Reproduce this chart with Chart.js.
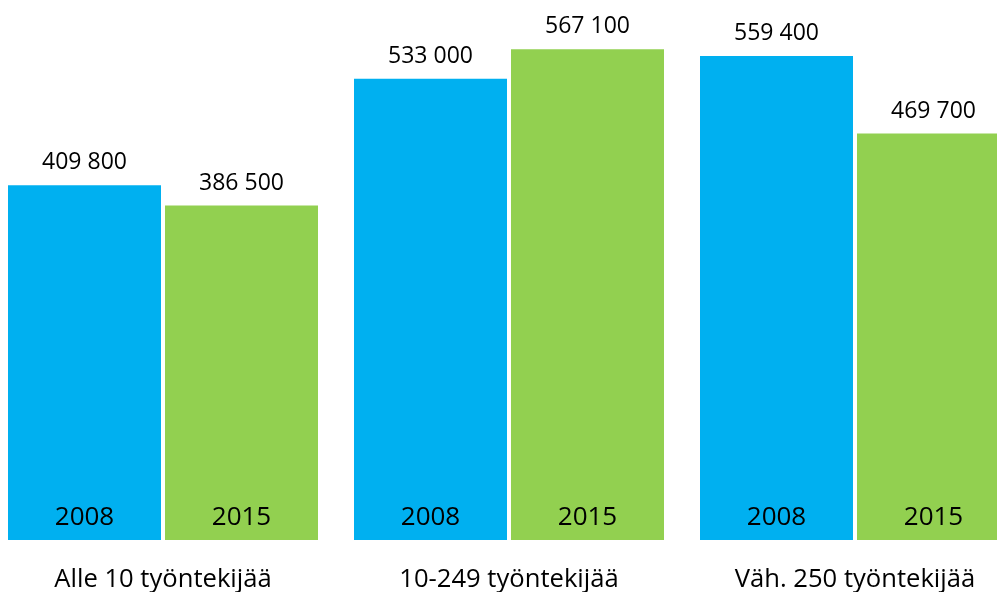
<!DOCTYPE html>
<html>
<head>
<meta charset="utf-8">
<script src="https://cdn.jsdelivr.net/npm/chart.js@4"></script>
<style>
  html, body { margin: 0; padding: 0; background: #fff; overflow: hidden; }
  #wrap { position: absolute; left: -10px; top: 0; width: 1038px; height: 592px; }
</style>
</head>
<body>
<div id="wrap"><canvas id="c"></canvas></div>
<script>
const categories = ["Alle 10 työntekijää", "10-249 työntekijää", "Väh. 250 työntekijää"];
const seriesNames = ["2008", "2015"];
const values2008 = [409800, 533000, 559400];
const values2015 = [386500, 567100, 469700];
const colors = ["#00B0F0", "#92D050"];

const fmt = v => String(v).replace(/\B(?=(\d{3})+(?!\d))/g, " ");

const labelPlugin = {
  id: "labels",
  afterDatasetsDraw(chart) {
    const ctx = chart.ctx;
    const y = chart.scales.y;
    const x = chart.scales.x;
    const base = y.getPixelForValue(0);
    ctx.save();
    ctx.fillStyle = "#000";
    ctx.textAlign = "center";
    ctx.textBaseline = "alphabetic";
    chart.data.datasets.forEach((ds, di) => {
      const meta = chart.getDatasetMeta(di);
      meta.data.forEach((bar, i) => {
        ctx.font = "23px 'Open Sans'";
        ctx.fillText(fmt(ds.data[i]), bar.x, bar.y - 16);
        ctx.font = "26px 'Open Sans'";
        ctx.fillText(ds.label, bar.x, base - 15);
      });
    });
    ctx.font = "25.6px 'Open Sans'";
    categories.forEach((c, i) => {
      ctx.fillText(c, x.getPixelForValue(i), 587);
    });
    ctx.restore();
  }
};

new Chart(document.getElementById("c"), {
  type: "bar",
  data: {
    labels: categories,
    datasets: [
      { label: seriesNames[0], data: values2008, backgroundColor: colors[0] },
      { label: seriesNames[1], data: values2015, backgroundColor: colors[1] }
    ]
  },
  options: {
    responsive: true,
    maintainAspectRatio: false,
    animation: false,
    layout: { padding: { top: 0, bottom: 52, left: 0, right: 0 } },
    datasets: { bar: { categoryPercentage: 314 / 346, barPercentage: 153 / 157 } },
    plugins: { legend: { display: false }, tooltip: { enabled: false } },
    scales: {
      x: { display: false },
      y: { display: false, min: 0, max: 624000 }
    }
  },
  plugins: [labelPlugin]
});
</script>
</body>
</html>
